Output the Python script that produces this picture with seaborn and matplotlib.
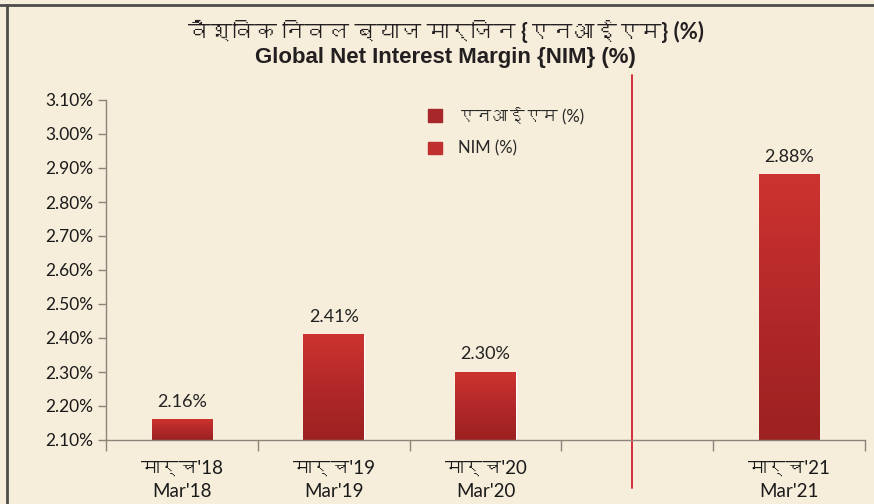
import matplotlib.pyplot as plt
import matplotlib.font_manager as fm
import numpy as np
import pandas as pd
import seaborn as sns
from matplotlib.colors import LinearSegmentedColormap
from matplotlib.lines import Line2D
from matplotlib.ticker import FuncFormatter, FixedLocator

hindi_months = ["मार्च'18", "मार्च'19", "मार्च'20", "", "मार्च'21"]
english_months = ["Mar'18", "Mar'19", "Mar'20", "", "Mar'21"]
nim_values = [2.16, 2.41, 2.30, np.nan, 2.88]
y_ticks = [2.10, 2.20, 2.30, 2.40, 2.50, 2.60, 2.70, 2.80, 2.90, 3.00, 3.10]

title_hi = "वैश्विक निवल ब्याज मार्जिन {एनआईएम} (%)"
title_en = "Global Net Interest Margin {NIM} (%)"
legend_labels = ["एनआईएम (%)", "NIM (%)"]

BG = "#f6eddb"
BAR = "#b3282a"
AXIS = "#8c8478"


def devanagari_font():
    """Pick any installed family that has Devanagari glyphs."""
    from matplotlib.ft2font import FT2Font
    for f in fm.fontManager.ttflist:
        try:
            if 0x0915 in FT2Font(f.fname).get_charmap():
                return f.name
        except Exception:
            continue
    return None


sns.set_theme(style="white")
deva = devanagari_font()
families = ["Lato", "DejaVu Sans"]
if deva:
    families = ["Lato", deva, "DejaVu Sans"]
plt.rcParams["font.family"] = families

labels = [f"{h}\n{e}" if h else " " for h, e in zip(hindi_months, english_months)]
df = pd.DataFrame({"month": labels, "nim": nim_values})

fig = plt.figure(figsize=(8.74, 5.04), dpi=100, facecolor=BG)
ax = fig.add_axes([106 / 874, 1 - 440 / 504, 759 / 874, 340 / 504])
ax.set_facecolor(BG)

sns.barplot(data=df, x="month", y="nim", order=labels, color=BAR, width=0.4,
            saturation=1, ax=ax)

ymin, ymax = y_ticks[0], y_ticks[-1]

# vertical red gradient over the visible part of each bar
grad = LinearSegmentedColormap.from_list("bar", ["#9c2120", "#b3282a", "#cc332e"])
for p in ax.patches:
    x0, w, top = p.get_x(), p.get_width(), p.get_y() + p.get_height()
    if np.isnan(top) or top <= ymin:
        continue
    ax.imshow(np.linspace(0, 1, 64).reshape(-1, 1), cmap=grad,
              extent=[x0, x0 + w, ymin, top], origin="lower",
              aspect="auto", zorder=p.get_zorder() + 0.1)
ax.set_xlim(-0.5, len(labels) - 0.5)
ax.set_ylim(ymin, ymax)

ax.yaxis.set_major_locator(FixedLocator(y_ticks))
ax.yaxis.set_major_formatter(FuncFormatter(lambda v, _: f"{v:.2f}%"))
ax.set_xlabel("")
ax.set_ylabel("")

for s in ["top", "right"]:
    ax.spines[s].set_visible(False)
for s in ["left", "bottom"]:
    ax.spines[s].set_color(AXIS)
    ax.spines[s].set_linewidth(1)

ax.tick_params(axis="y", which="major", left=True, length=6, width=1,
               color=AXIS, labelsize=12.5, labelcolor="#1a1a1a", pad=3)
ax.tick_params(axis="x", which="major", bottom=False, labelsize=13.5,
               labelcolor="#1a1a1a", pad=8)
for t in ax.get_xticklabels():
    t.set_linespacing(1.45)
ax.set_xticks(np.arange(len(labels) + 1) - 0.5, minor=True)
ax.tick_params(axis="x", which="minor", bottom=True, length=8, width=1,
               color=AXIS)

for i, v in enumerate(nim_values):
    if np.isnan(v):
        continue
    ax.annotate(f"{v:.2f}%", (i, v), xytext=(0, 7), textcoords="offset points",
                ha="center", va="bottom", fontsize=13, color="#222222")

# red divider in the empty slot
gap = int(np.where(np.isnan(nim_values))[0][0])
ax.axvline(gap - 0.035, ymin=-0.14, ymax=1.075, color="#cf1f2e", lw=1.3,
           clip_on=False)

handles = [
    plt.Rectangle((0, 0), 1, 1, color="#a8272a"),
    plt.Rectangle((0, 0), 1, 1, color="#c0302f"),
]
ax.legend(handles, legend_labels, loc="upper left", bbox_to_anchor=(0.405, 1.025),
          frameon=False, fontsize=12, handlelength=0.8, handleheight=0.8,
          labelspacing=1.0, handletextpad=1.0)

fig.text(0.51, 0.938, title_hi, ha="center", va="center", fontsize=16,
         fontweight="bold", color="#231f20")
fig.text(0.51, 0.885, title_en, ha="center", va="center", fontsize=16,
         fontweight="bold", color="#231f20", family=["Liberation Sans", "DejaVu Sans"])

# frame lines of the panel
fig.add_artist(Line2D([0, 1], [1 - 5 / 504, 1 - 5 / 504], color="#4d4d4d", lw=2))
fig.add_artist(Line2D([7 / 874, 7 / 874], [0, 1 - 5 / 504], color="#4d4d4d", lw=2))

fig.savefig("out.png", dpi=100, facecolor=BG)
